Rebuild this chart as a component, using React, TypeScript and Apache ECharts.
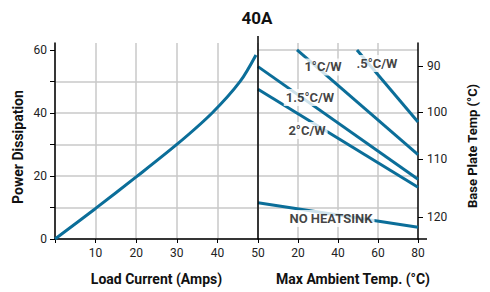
import React, { useEffect, useRef } from 'react';
import * as echarts from 'echarts';

// Load current curve (left panel)
const currentAmps = [0, 10, 20, 30, 38.7, 45.6, 49.5];
const currentPower = [0, 9.7, 19.7, 30, 40, 50, 58.4];

// Thermal resistance lines (right panel): [start, end]
const ratingNames = ['.5°C/W', '1°C/W', '1.5°C/W', '2°C/W', 'NO HEATSINK'];
const ratingTemp = [[49.5, 80], [19.5, 80], [0, 80], [0, 80], [0, 80]];
const ratingPower = [[60, 37.1], [60, 26.8], [54.7, 18.95], [47.5, 16.4], [11.5, 3.7]];
const labelTemp = [59.5, 32.5, 26, 24.5, 36.5];
const labelPower = [55.7, 54.6, 44.9, 34.4, 6.5];

// Axis ticks
const leftTicks = [0, 10, 20, 30, 40, 50, 60];
const leftLabels = [0, 20, 40, 60];
const baseTempLabels = [90, 100, 110, 120];
const baseTempPower = [54.9, 40.3, 25.4, 7.0];

const FONT = "Roboto, 'Liberation Sans', sans-serif";
const BLUE = '#0B6E99';
const GRIDC = '#c8c8c8';

const LEFT_X = 55;
const DIV_X = 258;
const RIGHT_X = 418;
const TOP_Y = 43;
const BOTTOM_Y = 239;
const W = 490;
const H = 292;
const YMAX = 62.2;

export default function App() {
  const ref = useRef<HTMLDivElement>(null);
  useEffect(() => {
    if (!ref.current) return;
    const chart = echarts.init(ref.current, undefined, { renderer: 'svg' });
    const tickLabel = { fontSize: 12, color: '#222', fontFamily: FONT };
    const nameStyle = { fontSize: 14, fontWeight: 'bold' as const, color: '#111', fontFamily: FONT };
    const axisLine = { show: true, lineStyle: { color: '#000', width: 1.5 } };
    const split = { show: true, showMaxLine: false, lineStyle: { color: GRIDC, width: 1.5 } };

    const lineSeries = ratingNames.map((n, i) => ({
      type: 'line',
      name: n,
      xAxisIndex: 1,
      yAxisIndex: 1,
      symbol: 'none',
      lineStyle: { color: BLUE, width: 3 },
      data: ratingTemp[i].map((t, j) => [t, ratingPower[i][j]]),
      z: 2,
    }));

    chart.setOption({
      animation: false,
      title: {
        text: '40A',
        left: 257,
        top: 9,
        padding: 0,
        textAlign: 'center',
        textStyle: { fontSize: 17, fontWeight: 'bold', color: '#111', fontFamily: FONT },
      },
      grid: [
        { left: LEFT_X, top: TOP_Y, width: DIV_X - LEFT_X, height: BOTTOM_Y - TOP_Y },
        { left: DIV_X, top: TOP_Y, width: RIGHT_X - DIV_X, height: BOTTOM_Y - TOP_Y },
      ],
      xAxis: [
        {
          type: 'value', gridIndex: 0, min: 0, max: 50, interval: 10,
          axisLine, axisTick: { show: true, length: 4, lineStyle: { color: '#000' } },
          axisLabel: { ...tickLabel, margin: 8, formatter: (v: number) => (v === 0 ? '' : String(v)) },
          splitLine: split,
          name: 'Load Current (Amps)', nameLocation: 'middle', nameGap: 33, nameTextStyle: nameStyle,
        },
        {
          type: 'value', gridIndex: 1, min: 0, max: 80, interval: 20,
          axisLine, axisTick: { show: true, length: 4, lineStyle: { color: '#000' } },
          axisLabel: { ...tickLabel, margin: 8, formatter: (v: number) => (v === 0 ? '' : String(v)) },
          splitLine: split,
          name: 'Max Ambient Temp. (°C)', nameLocation: 'middle', nameGap: 33,
          nameTextStyle: { ...nameStyle, padding: [0, 0, 0, 30] },
        },
      ],
      yAxis: [
        {
          type: 'value', gridIndex: 0, min: 0, max: YMAX, interval: 10,
          axisLine,
          axisTick: { show: true, length: 5, customValues: leftTicks, lineStyle: { color: '#000' } },
          axisLabel: { ...tickLabel, margin: 8, customValues: leftLabels },
          splitLine: split,
          name: 'Power Dissipation', nameLocation: 'middle', nameRotate: 90, nameGap: 30,
          nameTextStyle: { ...nameStyle, padding: [0, 12, 0, 0] },
        },
        {
          type: 'value', gridIndex: 1, min: 0, max: YMAX, interval: 10,
          axisLine: { show: false }, axisTick: { show: false }, axisLabel: { show: false },
          splitLine: split,
        },
        {
          type: 'value', gridIndex: 1, position: 'right', min: 0, max: YMAX,
          axisLine,
          axisTick: { show: true, length: 5, customValues: baseTempPower, lineStyle: { color: '#000' } },
          axisLabel: {
            ...tickLabel, margin: 9, customValues: baseTempPower,
            formatter: (v: number) => {
              let best = 0;
              baseTempPower.forEach((p, i) => {
                if (Math.abs(p - v) < Math.abs(baseTempPower[best] - v)) best = i;
              });
              return String(baseTempLabels[best]);
            },
          },
          splitLine: { show: false },
          name: 'Base Plate Temp (°C)', nameLocation: 'middle', nameRotate: 90, nameGap: 48,
          nameTextStyle: { ...nameStyle, fontSize: 13, padding: [0, 10, 0, 0] },
        },
      ],
      graphic: [
        {
          type: 'line', z: 10,
          shape: { x1: DIV_X, y1: 36, x2: DIV_X, y2: BOTTOM_Y },
          style: { stroke: '#000', lineWidth: 1.5 },
        },
        {
          type: 'line', z: 10,
          shape: { x1: RIGHT_X, y1: BOTTOM_Y, x2: RIGHT_X + 9, y2: BOTTOM_Y },
          style: { stroke: '#000', lineWidth: 1.5 },
        },
      ],
      series: [
        {
          type: 'line',
          name: 'Load',
          xAxisIndex: 0,
          yAxisIndex: 0,
          symbol: 'none',
          smooth: 0.3,
          lineStyle: { color: BLUE, width: 3 },
          data: currentAmps.map((a, i) => [a, currentPower[i]]),
          z: 2,
        },
        ...lineSeries,
        {
          type: 'scatter',
          xAxisIndex: 1,
          yAxisIndex: 1,
          symbol: 'circle',
          symbolSize: 1,
          itemStyle: { color: 'rgba(0,0,0,0)' },
          silent: true,
          z: 5,
          label: {
            show: true,
            position: 'inside',
            formatter: '{b}',
            backgroundColor: '#fff',
            padding: [2, 2],
            fontSize: 13,
            fontWeight: 'bold',
            color: '#111',
            fontFamily: FONT,
          },
          data: labelTemp.map((t, i) => ({ name: ratingNames[i], value: [t, labelPower[i]] })),
        },
      ],
    });
    return () => chart.dispose();
  }, []);
  return (
    <div
      ref={ref}
      style={{ position: 'absolute', left: 0, top: 0, width: W, height: H, background: '#fff' }}
    />
  );
}
